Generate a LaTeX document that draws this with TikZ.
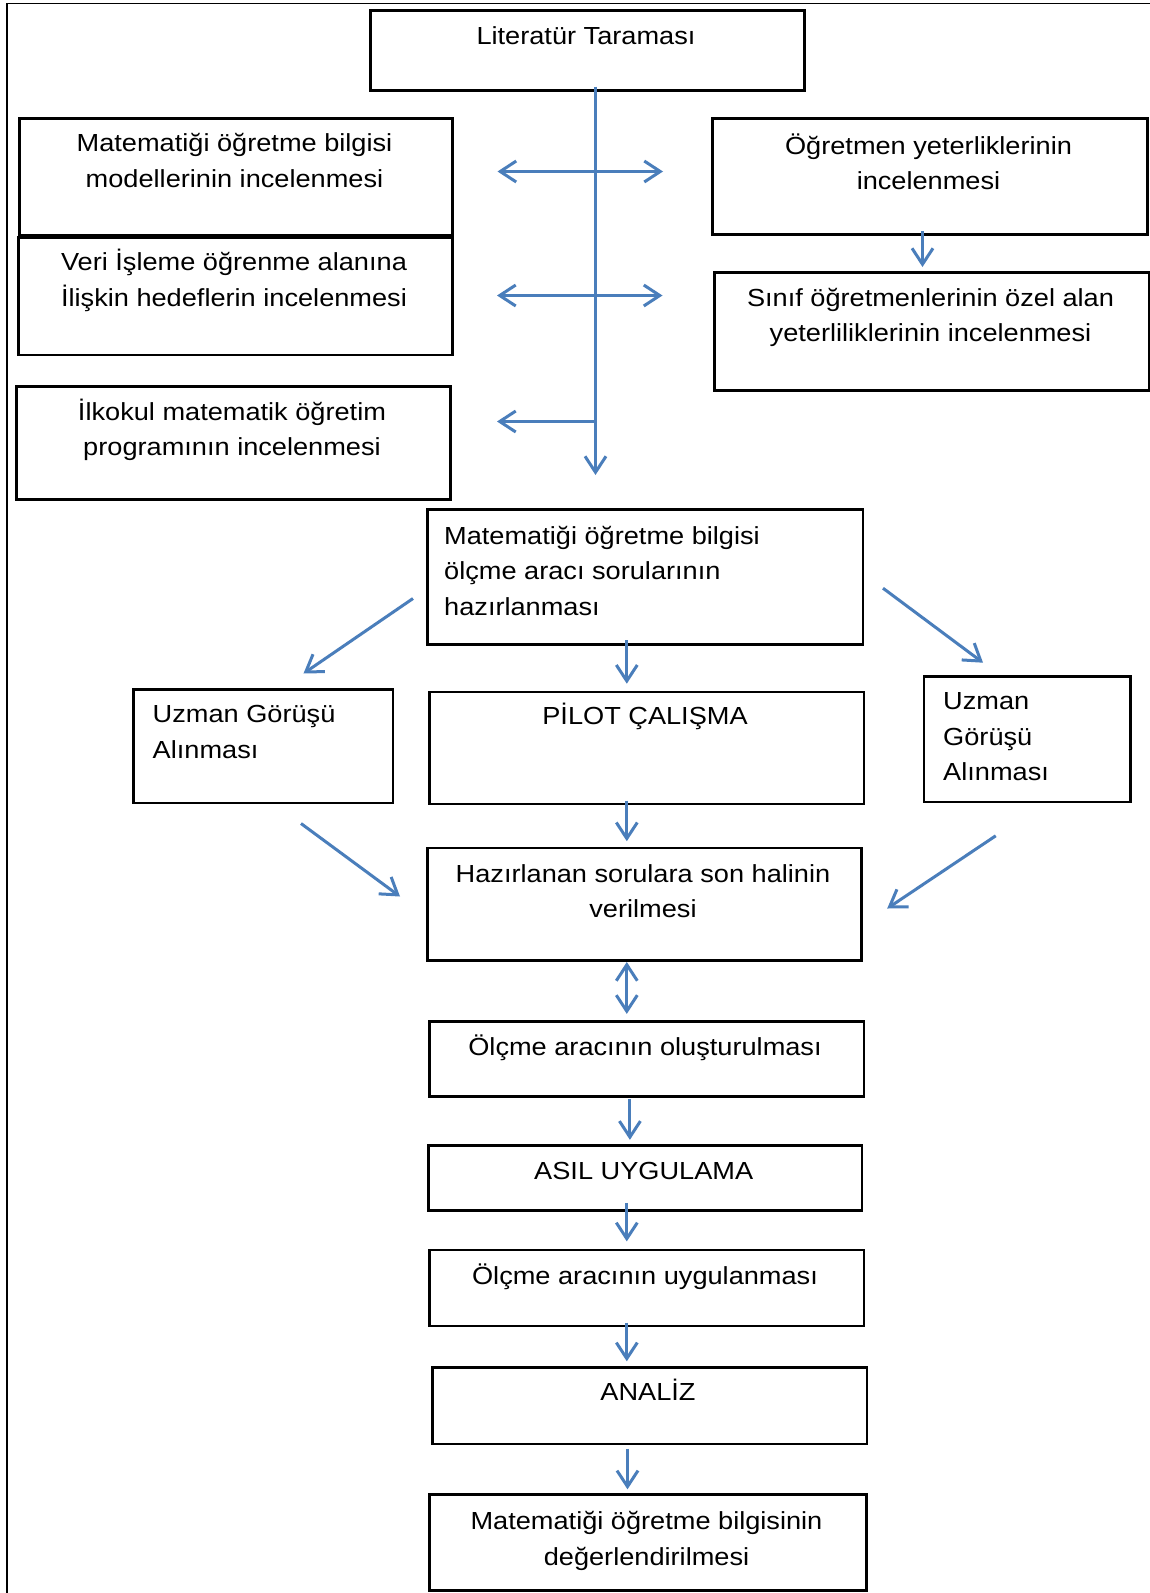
\documentclass[tikz,border=0pt]{standalone}
\usepackage{fontspec}
\setmainfont{Liberation Sans}[FakeStretch=1.1]
\usetikzlibrary{arrows.meta}
\definecolor{arrowblue}{HTML}{4A7EBB}
\tikzset{
  boxnode/.style={draw=black, line width=2.5pt, rectangle, inner sep=0pt, anchor=north west},
  ctext/.style={anchor=north, inner sep=0pt, align=center, font=\fontsize{24.7}{35.5}\selectfont},
  ltext/.style={anchor=north west, inner sep=0pt, align=left, font=\fontsize{24.7}{35.5}\selectfont},
  flow/.style={draw=arrowblue, line width=3pt, -{Straight Barb[length=16pt,width=21pt]}},
  bothflow/.style={draw=arrowblue, line width=3pt, {Straight Barb[length=16pt,width=21pt]}-{Straight Barb[length=16pt,width=21pt]}},
  frameline/.style={draw=black, line width=1.3pt}
}
\newcommand{\mkbox}[5]{\node[boxnode, minimum width=#4pt-#2pt, minimum height=#5pt-#3pt] (#1) at (#2,#3) {};}
\begin{document}
\begin{tikzpicture}[x=1pt,y=-1pt]
\useasboundingbox (0,0) rectangle (1150,1593);
\fill[white] (0,0) rectangle (1150,1593);
% frame
\coordinate (fa) at (7,1593);
\coordinate (fb) at (7,3.3);
\coordinate (fc) at (1150,3.3);
\draw[frameline] (fa) -- (fb) -- (fc);
% boxes
\mkbox{b1}{369}{9}{803}{89}
\mkbox{b2}{18}{117}{451}{234}
\mkbox{b3}{17}{236}{451}{353.5}
\mkbox{b4}{15}{385}{449}{498}
\mkbox{b5}{711}{117}{1146}{233}
\mkbox{b6}{713}{271}{1148}{389}
\mkbox{b7}{426}{508}{861.5}{643}
\mkbox{b8}{132}{688}{391.5}{801.5}
\mkbox{b9}{428}{690.5}{862.5}{802.5}
\mkbox{b10}{922.5}{675}{1129}{800.5}
\mkbox{b11}{426}{846.5}{860}{959}
\mkbox{b12}{428}{1020}{862.5}{1095}
\mkbox{b13}{427}{1144}{860.5}{1209}
\mkbox{b14}{428}{1248.5}{862.5}{1324.7}
\mkbox{b15}{431}{1366.4}{865.5}{1442.5}
\mkbox{b16}{428}{1493.4}{865}{1589}
% texts (top = first baseline - 24.85)
\node[ctext] (t1) at (586,19.2) {\strut Literatür Taraması};
\node[ctext] (t2) at (234.5,126.6) {\strut Matematiği öğretme bilgisi\\modellerinin incelenmesi};
\node[ctext] (t3) at (234,245.7) {\strut Veri İşleme öğrenme alanına\\İlişkin hedeflerin incelenmesi};
\node[ctext] (t4) at (232,395.2) {\strut İlkokul matematik öğretim\\programının incelenmesi};
\node[ctext] (t5) at (928.5,129.2) {\strut Öğretmen yeterliklerinin\\incelenmesi};
\node[ctext] (t6) at (930.5,281.2) {\strut Sınıf öğretmenlerinin özel alan\\yeterliliklerinin incelenmesi};
\node[ltext] (t7) at (444,519.2) {\strut Matematiği öğretme bilgisi\\ölçme aracı sorularının\\hazırlanması};
\node[ltext] (t8) at (152.5,697.7) {\strut Uzman Görüşü\\Alınması};
\node[ctext] (t9) at (645,699.7) {\strut PİLOT ÇALIŞMA};
\node[ltext] (t10) at (943,684.9) {\strut Uzman\\Görüşü\\Alınması};
\node[ctext] (t11) at (643,857.2) {\strut Hazırlanan sorulara son halinin\\verilmesi};
\node[ctext] (t12) at (645,1030.2) {\strut Ölçme aracının oluşturulması};
\node[ctext] (t13) at (643.7,1154.2) {\strut ASIL UYGULAMA};
\node[ctext] (t14) at (645,1259.7) {\strut Ölçme aracının uygulanması};
\node[ctext] (t15) at (648,1375.2) {\strut ANALİZ};
\node[ctext] (t16) at (646.5,1504.7) {\strut Matematiği öğretme bilgisinin\\değerlendirilmesi};
% arrow coordinates
\coordinate (v0) at (595.5,86.5);
\coordinate (v1) at (595.5,475);
\coordinate (h1l) at (497.5,171.5);
\coordinate (h1r) at (663,171.5);
\coordinate (h2l) at (497,295.5);
\coordinate (h2r) at (662.5,295.5);
\coordinate (h3s) at (595.5,421.5);
\coordinate (h3l) at (497,421.5);
\coordinate (r1s) at (922.5,231);
\coordinate (r1e) at (922.5,267);
\coordinate (d1s) at (413,598.5);
\coordinate (d1e) at (303.5,673.5);
\coordinate (d2s) at (883,588.2);
\coordinate (d2e) at (983,662.7);
\coordinate (m1s) at (626.8,640);
\coordinate (m1e) at (626.8,683.7);
\coordinate (m2s) at (626.8,800.5);
\coordinate (m2e) at (626.8,841.2);
\coordinate (d3s) at (301,823.5);
\coordinate (d3e) at (400,896.5);
\coordinate (d4s) at (995.7,835.8);
\coordinate (d4e) at (887.2,908.5);
\coordinate (m3s) at (626.8,962);
\coordinate (m3e) at (626.8,1013.9);
\coordinate (m4s) at (629.9,1099.2);
\coordinate (m4e) at (629.9,1139.8);
\coordinate (m5s) at (626.8,1202.8);
\coordinate (m5e) at (626.8,1241.4);
\coordinate (m6s) at (626.8,1322.7);
\coordinate (m6e) at (626.8,1361.3);
\coordinate (m7s) at (627.5,1448.5);
\coordinate (m7e) at (627.5,1489.3);
% arrows
\draw[flow] (v0) -- (v1);
\draw[bothflow] (h1l) -- (h1r);
\draw[bothflow] (h2l) -- (h2r);
\draw[flow] (h3s) -- (h3l);
\draw[flow] (r1s) -- (r1e);
\draw[flow] (d1s) -- (d1e);
\draw[flow] (d2s) -- (d2e);
\draw[flow] (m1s) -- (m1e);
\draw[flow] (m2s) -- (m2e);
\draw[flow] (d3s) -- (d3e);
\draw[flow] (d4s) -- (d4e);
\draw[bothflow] (m3s) -- (m3e);
\draw[flow] (m4s) -- (m4e);
\draw[flow] (m5s) -- (m5e);
\draw[flow] (m6s) -- (m6e);
\draw[flow] (m7s) -- (m7e);
\end{tikzpicture}
\end{document}
